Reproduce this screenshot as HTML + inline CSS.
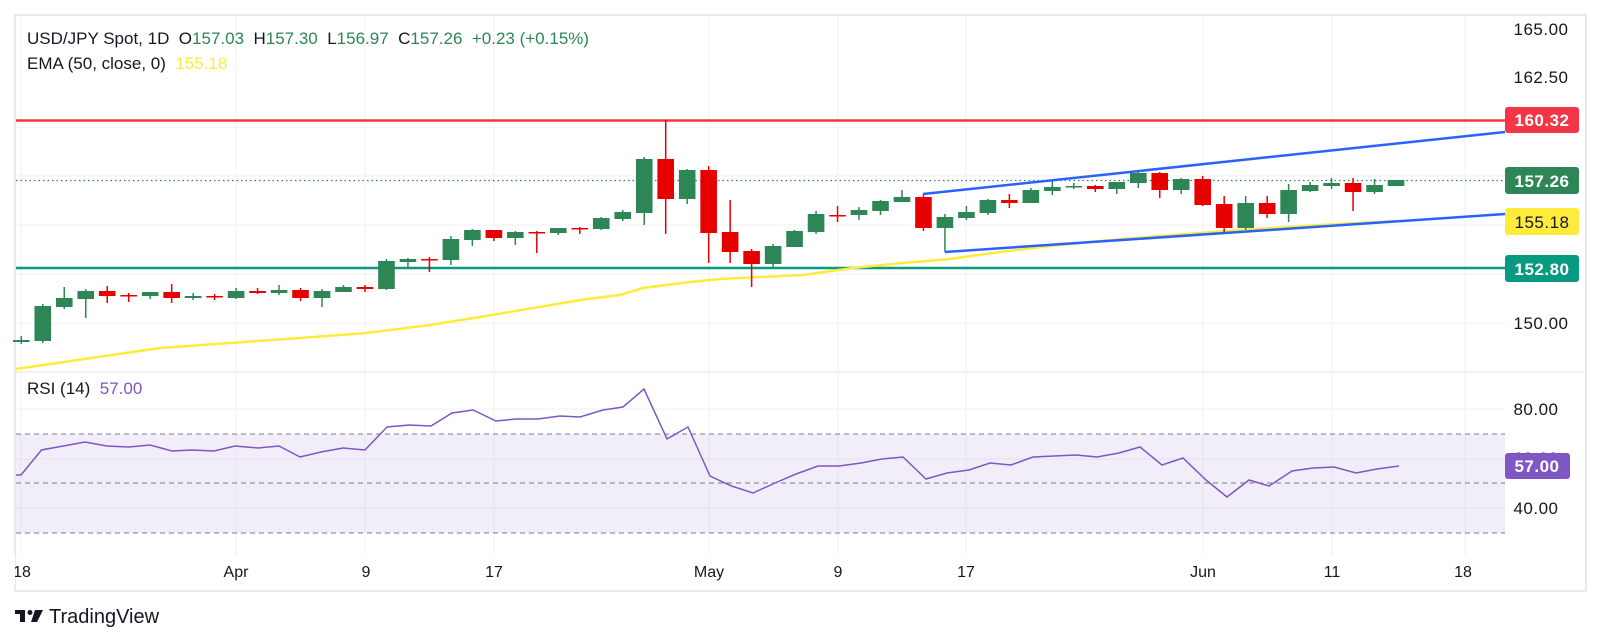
<!DOCTYPE html>
<html><head><meta charset="utf-8"><style>
html,body{margin:0;padding:0;background:#fff;width:1601px;height:644px;overflow:hidden}
svg{display:block}
text{font-family:"Liberation Sans",sans-serif}
</style></head><body>
<svg id="s" width="1601" height="644" viewBox="0 0 1601 644" xmlns="http://www.w3.org/2000/svg">
<rect x="0" y="0" width="1601" height="644" fill="#fff"/>
<rect x="15" y="15" width="1571" height="576" fill="none" stroke="#e8e8ef" stroke-width="2"/>
<line x1="15" y1="372" x2="1586" y2="372" stroke="#e0e3eb" stroke-width="1"/>
<g id="grid" stroke="#f0f1f4" stroke-width="1"></g>
<rect x="16" y="434" width="1489" height="99" fill="#7e57c2" fill-opacity="0.1"/>
<g stroke="#787b86" stroke-width="1" stroke-dasharray="5,4">
<line x1="16" y1="434" x2="1505" y2="434"/>
<line x1="16" y1="483" x2="1505" y2="483"/>
<line x1="16" y1="533" x2="1505" y2="533"/>
</g>
<line x1="16" y1="120.5" x2="1505" y2="120.5" stroke="#f23645" stroke-width="2.5"/>
<line x1="16" y1="268" x2="1505" y2="268" stroke="#089981" stroke-width="2.5"/>
<line x1="16" y1="180.5" x2="1505" y2="180.5" stroke="#2e8555" stroke-width="1.2" stroke-dasharray="1.5,3"/>
<polyline fill="none" stroke="#ffeb3b" stroke-width="2.5" points="16,369 160,348 300,338 366,333 430,325 480,317 587,299 620,295 643,288 690,282 720,279 803,275 853,268 903,263 950,259 1000,252 1050,246 1100,241 1147,237 1240,230 1320,225 1398,221"/>
<g id="candles"></g>
<line x1="923" y1="194" x2="1505" y2="132" stroke="#2962ff" stroke-width="2.5"/>
<line x1="945" y1="252" x2="1505" y2="214" stroke="#2962ff" stroke-width="2.5"/>
<polyline fill="none" stroke="#7e57c2" stroke-width="1.5" points="16,475 21,475 41.5,450 85,442 107,446 129,447 150,445 172,451 192,450 214,451 235,446 258,448 279,446 300,457 321,452 343,448 365,450 387,427 409,425 431,426 452,413 473,410 496,421 516,419 538,419 560,416 580,417 603,410 623,407 644,389 667,439 688,427 710,476 731.5,486 753,493 775,483 796,474 818,466 839,466 861,463 882,459 903,457 926,479 947,473 969,470 990,463 1011,465 1033,457 1054,456 1076,455 1097,457 1119,453 1140,447 1162,465 1183,458 1206,480 1227,497 1249,480 1269,486 1292,471 1313,468 1334,467 1356,473 1377,469 1399,466"/>
<g font-size="17" fill="#131722" text-anchor="middle" letter-spacing="0.5">
<text x="1541" y="35">165.00</text>
<text x="1541" y="83">162.50</text>
<text x="1541" y="329">150.00</text>
<text x="1536" y="415">80.00</text>
<text x="1536" y="464">60.00</text>
<text x="1536" y="514">40.00</text>
</g>
<g font-size="17" font-weight="bold" text-anchor="middle" letter-spacing="0.5">
<rect x="1505" y="107" width="74" height="26" rx="3" fill="#f23645"/><text x="1542" y="126" fill="#fff">160.32</text>
<rect x="1505" y="167" width="74" height="27" rx="3" fill="#2e8555"/><text x="1542" y="187" fill="#fff">157.26</text>
<rect x="1505" y="208" width="74" height="27" rx="3" fill="#ffeb3b"/><text x="1542" y="228" fill="#131722" font-weight="normal">155.18</text>
<rect x="1505" y="255" width="74" height="27" rx="3" fill="#089981"/><text x="1542" y="275" fill="#fff">152.80</text>
<rect x="1505" y="453" width="65" height="26" rx="3" fill="#7e57c2"/><text x="1537" y="472" fill="#fff">57.00</text>
</g>
<g font-size="16" fill="#131722" text-anchor="middle">
<text x="22" y="577">18</text>
<text x="236" y="577">Apr</text>
<text x="366" y="577">9</text>
<text x="494" y="577">17</text>
<text x="709" y="577">May</text>
<text x="838" y="577">9</text>
<text x="966" y="577">17</text>
<text x="1203" y="577">Jun</text>
<text x="1332" y="577">11</text>
<text x="1463" y="577">18</text>
</g>
<rect x="0" y="555" width="15" height="30" fill="#fff"/>
<text x="27" y="44" font-size="17" fill="#131722" xml:space="preserve">USD/JPY Spot, 1D  O<tspan fill="#2e8555">157.03</tspan>  H<tspan fill="#2e8555">157.30</tspan>  L<tspan fill="#2e8555">156.97</tspan>  C<tspan fill="#2e8555">157.26</tspan>  <tspan fill="#2e8555">+0.23 (+0.15%)</tspan></text>
<text x="27" y="69" font-size="17" fill="#131722" xml:space="preserve">EMA (50, close, 0)  <tspan fill="#ffeb3b">155.18</tspan></text>
<text x="27" y="394" font-size="17" fill="#131722" xml:space="preserve">RSI (14)  <tspan fill="#7e57c2">57.00</tspan></text>
<g fill="#131722">
<rect x="15" y="610" width="10" height="4"/><rect x="20" y="610" width="5" height="12"/>
<circle cx="30" cy="612.5" r="2.5"/>
<polygon points="35,610 43,610 37,622 31,622"/>
</g>
<text x="49" y="623" font-size="20" fill="#131722">TradingView</text>
</svg>
<script>
var NS="http://www.w3.org/2000/svg";
function el(p,t,a){var e=document.createElementNS(NS,t);for(var k in a)e.setAttribute(k,a[k]);p.appendChild(e);return e;}
var g=document.getElementById('grid');
[127,176,225,274,323].forEach(function(y){el(g,'line',{x1:16,y1:y,x2:1505,y2:y});});
[409,459,508].forEach(function(y){el(g,'line',{x1:16,y1:y,x2:1505,y2:y});});
[21,236,365,494,709,838,966,1203,1332,1465].forEach(function(x){el(g,'line',{x1:x,y1:16,x2:x,y2:555});});
var C=[
[340,342,336,344,'g'],[306,341,304,343,'g'],[298,307,287,309,'g'],[291,299,289,318,'g'],[291,296,286,303,'r'],
[295,296,293,302,'r'],[292,296,292,299,'g'],[292,298,284,303,'r'],[296,298,293,300,'g'],[296,297,294,300,'r'],
[291,298,288,299,'g'],[291,293,288,294,'r'],[290,293,285,295,'g'],[290,298,288,301,'r'],[291,298,289,307,'g'],
[287,292,285,292,'g'],[287,289,285,292,'r'],[261,289,259,290,'g'],[259,262,258,269,'g'],[259,260,257,272,'r'],
[239,260,236,265,'g'],[230,240,229,246,'g'],[230,238,230,241,'r'],[232,238,231,245,'g'],[232,233,231,253,'r'],
[228,233,228,235,'g'],[228,229,227,234,'r'],[218,229,217,230,'g'],[212,219,210,221,'g'],[159,213,157,225,'g'],
[159,199,120,234,'r'],[170,199,169,204,'g'],[170,233,166,263,'r'],[232,252,200,263,'r'],[251,264,249,287,'r'],
[246,264,244,267,'g'],[231,247,230,247,'g'],[214,232,211,234,'g'],[215,216,206,222,'r'],[210,215,207,220,'g'],
[201,211,200,215,'g'],[197,202,190,202,'g'],[197,228,194,231,'r'],[217,228,214,252,'g'],[212,218,206,220,'g'],
[200,213,199,215,'g'],[200,203,194,208,'r'],[190,203,188,203,'g'],[187,191,180,195,'g'],[186,187,183,189,'g'],
[186,189,185,192,'r'],[182,189,182,194,'g'],[173,183,171,188,'g'],[173,190,172,198,'r'],[179,190,178,194,'g'],
[179,205,176,206,'r'],[204,228,196,234,'r'],[203,228,196,230,'g'],[203,214,196,218,'r'],[190,214,184,222,'g'],
[185,191,182,192,'g'],[183,186,178,189,'g'],[183,192,178,211,'r'],[185,192,179,194,'g'],[180,186,180,186,'g']];
var cg=document.getElementById('candles');
C.forEach(function(c,i){var x=21.3+i*21.48;var col=c[4]=='g'?'#2e8555':'#e60000';
el(cg,'line',{x1:x,y1:c[2],x2:x,y2:c[3],stroke:col,'stroke-width':1.5});
el(cg,'rect',{x:x-8.3,y:c[0],width:16.6,height:Math.max(1.5,c[1]-c[0]),fill:col});});
</script>
</body></html>
